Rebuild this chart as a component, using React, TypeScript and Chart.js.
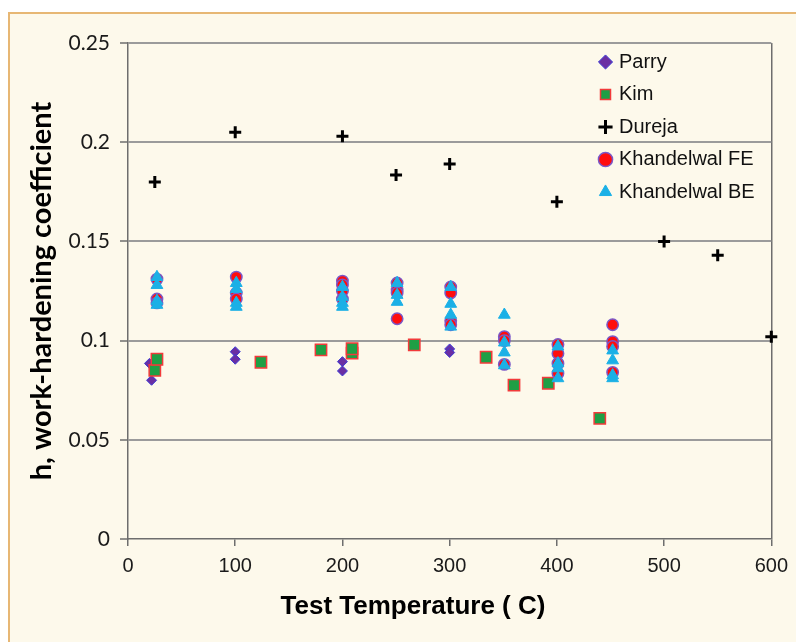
import React, { useEffect, useRef } from 'react';
import { Chart, registerables } from 'chart.js';

Chart.register(...registerables);

// ---- data ----
const seriesNames = ['Parry', 'Kim', 'Dureja', 'Khandelwal FE', 'Khandelwal BE'];

const parryT = [20, 22, 100, 100, 200, 200, 300, 300];
const parryH = [0.0885, 0.08, 0.0944, 0.0906, 0.0894, 0.0847, 0.0958, 0.094];

const kimT = [25, 27, 124, 180, 209, 209, 267, 334, 360, 392, 440];
const kimH = [0.085, 0.0906, 0.0891, 0.0953, 0.0937, 0.0959, 0.0978, 0.0916, 0.0776, 0.0785, 0.0608];

const durejaT = [25, 100, 200, 250, 300, 400, 500, 550, 600];
const durejaH = [0.18, 0.205, 0.203, 0.1835, 0.189, 0.17, 0.15, 0.143, 0.102];

const feT = [27, 27, 27, 101, 101, 101, 200, 200, 200, 200, 251, 251, 251, 251, 301, 301, 301, 301, 351, 351, 351, 401, 401, 401, 401, 452, 452, 452, 452];
const feH = [0.131, 0.121, 0.119, 0.132, 0.124, 0.121, 0.13, 0.128, 0.125, 0.121, 0.129, 0.1255, 0.124, 0.111, 0.127, 0.124, 0.11, 0.108, 0.102, 0.1, 0.088, 0.098, 0.0935, 0.0885, 0.0835, 0.108, 0.0995, 0.097, 0.084];

const beT = [27, 27, 27, 27, 101, 101, 101, 101, 200, 200, 200, 200, 251, 251, 251, 301, 301, 301, 301, 351, 351, 351, 351, 401, 401, 401, 401, 452, 452, 452, 452];
const beH = [0.132, 0.128, 0.12, 0.118, 0.129, 0.126, 0.119, 0.117, 0.127, 0.122, 0.119, 0.117, 0.129, 0.123, 0.1195, 0.127, 0.1185, 0.113, 0.107, 0.113, 0.099, 0.094, 0.0875, 0.097, 0.0885, 0.086, 0.081, 0.095, 0.09, 0.0825, 0.081];

const xTickValues = [0, 100, 200, 300, 400, 500, 600];
const xTickLabels = ['0', '100', '200', '300', '400', '500', '600'];
const yTickValues = [0, 0.05, 0.1, 0.15, 0.2, 0.25];
const yTickLabels = ['0', '0.05', '0.1', '0.15', '0.2', '0.25'];

const xTitle = 'Test Temperature ( C)';
const yTitle = 'h, work-hardening coefficient';

const pts = (xs: number[], ys: number[]) => xs.map((x, i) => ({ x, y: ys[i] }));

const findLabel = (vals: number[], labels: string[], v: number) => {
  const i = vals.findIndex((t) => Math.abs(t - v) < 1e-9);
  return i >= 0 ? labels[i] : '';
};

const legendPlace = {
  id: 'legendPlace',
  afterLayout(chart: any) {
    const l = chart.legend;
    if (!l) return;
    l.left = 589.5;
    l.top = 39.5;
    l.right = 790;
    l.bottom = 260;
  },
};

const xTitlePlugin = {
  id: 'xTitlePlugin',
  afterDraw(chart: any) {
    const ctx = chart.ctx;
    ctx.save();
    ctx.font = 'bold 26px "Liberation Sans", Arial, sans-serif';
    ctx.fillStyle = '#000';
    ctx.textAlign = 'center';
    ctx.textBaseline = 'middle';
    ctx.fillText(xTitle, 413, 607);
    ctx.restore();
  },
};

export default function App() {
  const ref = useRef<HTMLCanvasElement>(null);
  useEffect(() => {
    const axisColor = '#6e6e6e';
    const chart = new Chart(ref.current as HTMLCanvasElement, {
      type: 'scatter',
      data: {
        datasets: [
          {
            label: seriesNames[0],
            data: pts(parryT, parryH),
            pointStyle: 'rectRot',
            pointRadius: 5,
            backgroundColor: '#6a2fa3',
            borderColor: '#3b3bd4',
            borderWidth: 1,
            order: 5,
            clip: false,
          },
          {
            label: seriesNames[1],
            data: pts(kimT, kimH),
            pointStyle: 'rect',
            pointRadius: 8,
            backgroundColor: '#1f9f45',
            borderColor: '#f23a3a',
            borderWidth: 1.5,
            order: 4,
            clip: false,
          },
          {
            label: seriesNames[2],
            data: pts(durejaT, durejaH),
            pointStyle: 'cross',
            pointRadius: 6,
            backgroundColor: '#000',
            borderColor: '#000',
            borderWidth: 3,
            order: 3,
            clip: false,
          },
          {
            label: seriesNames[3],
            data: pts(feT, feH),
            pointStyle: 'circle',
            pointRadius: 5.7,
            backgroundColor: '#ff0d0d',
            borderColor: '#7a58c8',
            borderWidth: 1.5,
            order: 2,
            clip: false,
          },
          {
            label: seriesNames[4],
            data: pts(beT, beH),
            pointStyle: 'triangle',
            pointRadius: 6.8,
            backgroundColor: '#1bb0e6',
            borderColor: '#1bb0e6',
            borderWidth: 1,
            order: 1,
            clip: false,
          },
        ],
      },
      options: {
        responsive: false,
        animation: false,
        devicePixelRatio: 1,
        layout: { padding: { left: 0, top: 43, right: 24, bottom: 0 } },
        scales: {
          x: {
            type: 'linear',
            min: 0,
            max: 600,
            afterBuildTicks: (s: any) => {
              s.ticks = xTickValues.map((v) => ({ value: v }));
            },
            afterFit: (s: any) => {
              s.height = 103;
            },
            ticks: {
              callback: (v: any) => findLabel(xTickValues, xTickLabels, Number(v)),
              font: { family: '"Liberation Sans", Arial, sans-serif', size: 20 },
              color: '#1a1a1a',
              padding: 8,
              maxRotation: 0,
            },
            grid: {
              color: (c: any) => (c.tick && c.tick.value === 600 ? axisColor : 'rgba(0,0,0,0)'),
              lineWidth: 1.5,
              tickColor: axisColor,
              tickLength: 7,
              tickWidth: 1.5,
            },
            border: { display: true, color: axisColor, width: 1.5 },
            title: { display: false, text: xTitle },
          },
          y: {
            min: 0,
            max: 0.25,
            afterBuildTicks: (s: any) => {
              s.ticks = yTickValues.map((v) => ({ value: v }));
            },
            afterFit: (s: any) => {
              s.width = 128;
            },
            ticks: {
              callback: (v: any) => findLabel(yTickValues, yTickLabels, Number(v)),
              font: { family: 'Lato, "Open Sans", sans-serif', size: 21 },
              color: '#1a1a1a',
              padding: 10,
            },
            grid: {
              color: (c: any) => (c.tick && c.tick.value === 0 ? 'rgba(0,0,0,0)' : '#9b9b9b'),
              lineWidth: 2,
              tickColor: axisColor,
              tickLength: 8,
              tickWidth: 1.5,
            },
            border: { display: true, color: axisColor, width: 1.5 },
            title: {
              display: true,
              text: yTitle,
              font: { family: 'Lato, "Open Sans", sans-serif', weight: 'bold', size: 29 },
              color: '#000',
              padding: { top: 24.6, bottom: 0 },
            },
          },
        },
        plugins: {
          legend: {
            display: true,
            position: 'chartArea',
            align: 'start',
            labels: {
              usePointStyle: true,
              boxWidth: 7,
              boxHeight: 10,
              padding: 12.5,
              color: '#111',
              font: { family: '"Liberation Sans", Arial, sans-serif', size: 20 },
              sort: (a: any, b: any) => a.datasetIndex - b.datasetIndex,
            },
          },
          tooltip: { enabled: false },
          title: { display: false },
        },
      } as any,
      plugins: [legendPlace, xTitlePlugin],
    });
    return () => chart.destroy();
  }, []);

  return (
    <div style={{ position: 'fixed', left: 0, top: 0, width: 796, height: 642, background: '#fff', overflow: 'hidden' }}>
      <div
        style={{
          position: 'absolute',
          left: 8,
          top: 12,
          right: 0,
          bottom: 0,
          background: '#fdf9eb',
          borderLeft: '2px solid #e7b774',
          borderTop: '2px solid #e7b774',
        }}
      />
      <canvas ref={ref} width={796} height={642} style={{ position: 'absolute', left: 0, top: 0, width: 796, height: 642 }} />
    </div>
  );
}
